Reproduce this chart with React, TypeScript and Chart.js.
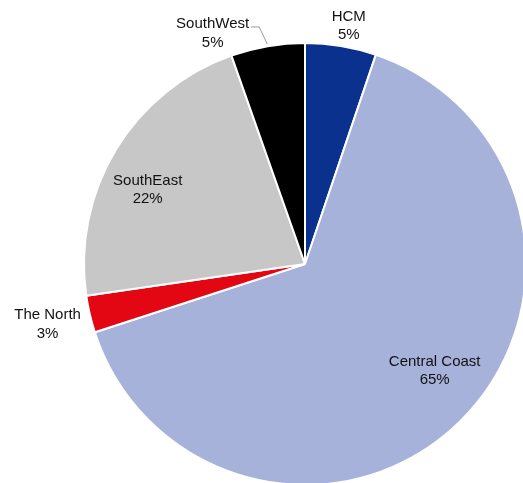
import React, { useEffect, useRef } from "react";
import { Chart, registerables } from "chart.js";

Chart.register(...registerables);

const categories = ["HCM", "Central Coast", "The North", "SouthEast", "SouthWest"];
const shares = [5.2, 64.8, 2.7, 21.9, 5.4];
const percentLabels = ["5%", "65%", "3%", "22%", "5%"];
const sliceColors = ["#0b318f", "#a6b2d9", "#e30613", "#c7c7c7", "#000000"];

// label placement: radius factor (of outer radius) and angle shift (deg) from slice middle
const labelRadius = [1.08, 0.77, 1.2, 0.78, 1.11];
const labelShift = [1.2, -5, -0.8, -7, -12.4];
const leaderLine = [false, false, false, false, true];

const FONT = '15px "Liberation Sans", Arial, sans-serif';
const LINE = 18.5;
const RAISE = 3.5;

const labelPlugin = {
  id: "sliceLabels",
  afterDatasetsDraw(chart: any) {
    const ctx = chart.ctx;
    const meta = chart.getDatasetMeta(0);
    ctx.save();
    ctx.font = FONT;
    ctx.fillStyle = "#111111";
    ctx.textAlign = "center";
    ctx.textBaseline = "middle";
    meta.data.forEach((arc: any, i: number) => {
      const p = arc.getProps(["x", "y", "startAngle", "endAngle", "outerRadius"], true);
      const mid = (p.startAngle + p.endAngle) / 2;
      const a = mid + (labelShift[i] * Math.PI) / 180;
      const r = p.outerRadius * labelRadius[i];
      const cx = p.x + Math.cos(a) * r;
      const cy = p.y + Math.sin(a) * r - RAISE;
      const l1 = categories[i];
      const l2 = percentLabels[i];
      ctx.fillText(l1, cx, cy - LINE / 2);
      ctx.fillText(l2, cx, cy + LINE / 2);
      if (leaderLine[i]) {
        const w = ctx.measureText(l1).width;
        const sx = cx + w / 2 + 2;
        const sy = cy - LINE / 2 + 3;
        const ex = p.x + Math.cos(mid) * (p.outerRadius + 2);
        const ey = p.y + Math.sin(mid) * (p.outerRadius + 2);
        ctx.strokeStyle = "#9a9a9a";
        ctx.lineWidth = 1;
        ctx.beginPath();
        ctx.moveTo(sx, sy);
        ctx.lineTo(sx + 8, sy);
        ctx.lineTo(ex, ey);
        ctx.stroke();
      }
    });
    ctx.restore();
  },
};

export default function App() {
  const ref = useRef<HTMLCanvasElement | null>(null);
  useEffect(() => {
    document.body.style.margin = "0";
    if (!ref.current) return;
    const chart = new Chart(ref.current, {
      type: "pie",
      data: {
        labels: categories,
        datasets: [
          {
            data: shares,
            backgroundColor: sliceColors,
            borderColor: "#ffffff",
            borderWidth: 2,
            hoverOffset: 0,
            offset: 0,
          },
        ],
      },
      options: {
        animation: false,
        responsive: false,
        devicePixelRatio: 1,
        layout: { padding: { left: 83, top: 42, right: 33, bottom: 34 } },
        plugins: {
          legend: { display: false },
          tooltip: { enabled: false },
        },
      },
      plugins: [labelPlugin],
    });
    return () => chart.destroy();
  }, []);
  return (
    <div style={{ width: 523, height: 483, overflow: "hidden", position: "relative", background: "#fff" }}>
      <canvas ref={ref} width={560} height={520} style={{ display: "block" }} />
    </div>
  );
}
